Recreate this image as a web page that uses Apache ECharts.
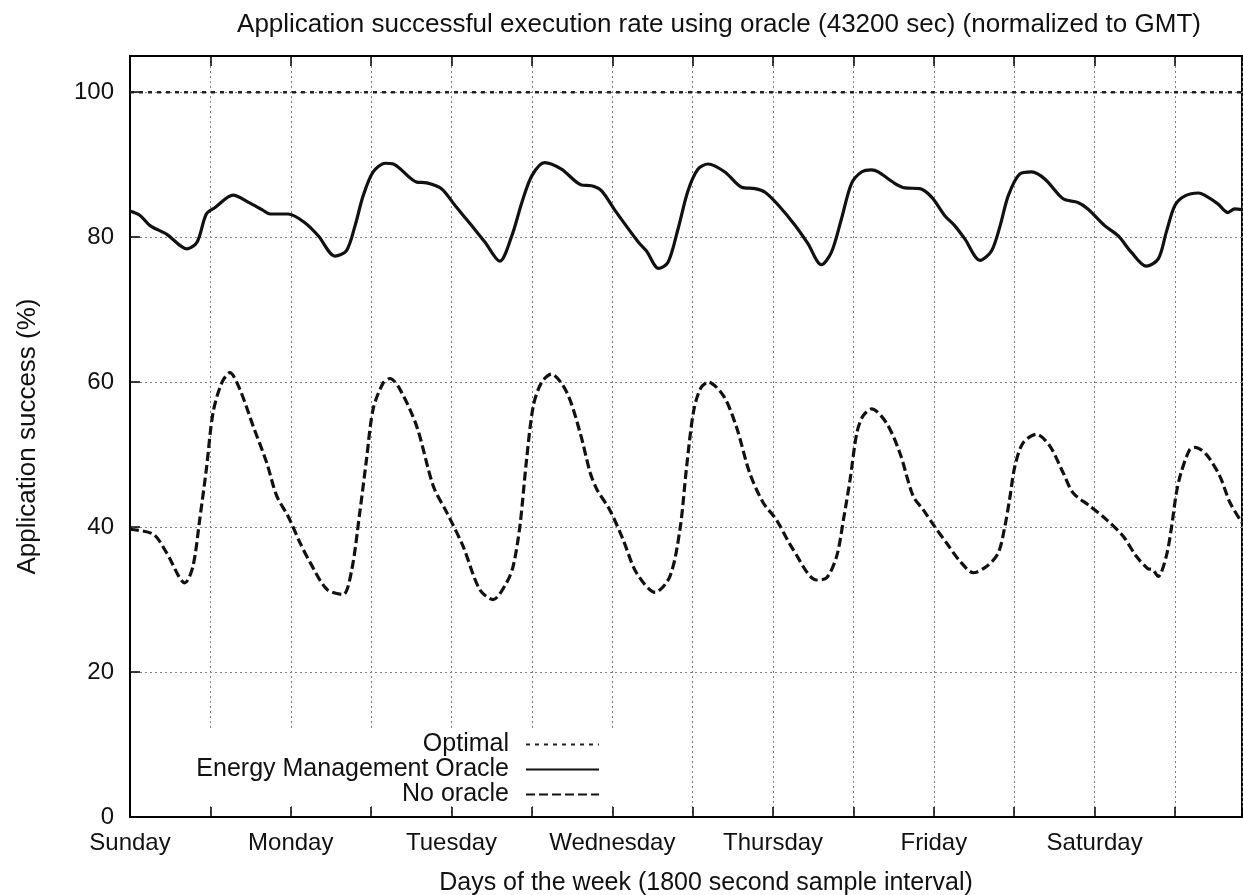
<!DOCTYPE html>
<html><head><meta charset="utf-8">
<script src="https://cdn.jsdelivr.net/npm/echarts@6/dist/echarts.min.js"></script>
<style>html,body{margin:0;padding:0;background:#fff}#c{width:1243px;height:895px}</style>
</head><body><div id="c"></div>
<script>
// x values are hours since Sunday 00:00 GMT (samples every 1800 s)
const dayLabels = ['Sunday','Monday','Tuesday','Wednesday','Thursday','Friday','Saturday'];
const yTicks = [0, 20, 40, 60, 80, 100];

const optimalHours = [0, 166];
const optimalValues = [100, 100];

const emoHours = [0,1.5,3,5.5,8.5,10,11.4,12.7,15.4,17.7,19.7,20.9,23.6,26.1,28.1,30.6,32.3,33.6,34.8,36.3,38.1,39.3,42.8,44.3,46.5,48.5,51,53,55.2,57,58.5,60,61.9,64.4,67.4,68.9,70.4,72.4,75.9,77.1,78.9,80.3,81.8,83.3,84.8,86.3,88.8,91.3,93.3,94.8,96.8,99.3,101.2,103.2,104.7,106.2,107.7,109.2,110.7,111.7,114.2,115.7,117.9,119.7,121.6,123.1,124.6,126.9,128.6,129.9,131.1,132.8,134.6,136.6,139.3,141.5,143,145.5,147.5,149.5,151.7,153.5,154.7,156,157.5,159.5,160.4,162.4,163.9,164.9,166];
const emoValues = [83.6,83.0,81.6,80.4,78.4,79.3,83.2,84.1,85.8,84.8,83.8,83.2,83.2,82.0,80.2,77.4,78.1,81.6,85.7,89.0,90.2,90.1,87.6,87.5,86.7,84.4,81.6,79.3,76.7,80.2,84.8,88.5,90.3,89.4,87.2,87.1,86.4,83.7,79.3,78.1,75.7,76.5,81.1,86.4,89.4,90.1,89.0,86.9,86.7,86.2,84.4,81.6,79.1,76.2,77.9,82.5,87.4,89.0,89.3,89.0,87.4,86.8,86.7,85.5,83.0,81.6,79.8,76.8,78.1,81.6,85.7,88.7,89.0,88.0,85.3,84.8,83.9,81.6,80.2,77.9,76.0,77.0,80.7,84.4,85.7,86.1,85.8,84.6,83.4,83.9,83.8];

const noHours = [0,3.5,5.5,8.2,9.4,10.4,11.4,12.4,13.7,14.9,16.4,18.4,20.4,21.9,23.6,25.4,26.9,29.4,31.8,33.1,34.3,35.3,36.3,37.8,38.8,40.3,42.8,45.3,47.3,49.7,52.2,54.2,56.2,57.2,58.2,59.2,60.2,61.4,62.9,65.2,67.2,68.7,69.7,71.6,73.6,75.6,78.4,80.6,82.1,83.1,84.1,85.1,86.3,88.6,90.5,92.5,94.5,96.5,99,102.5,104,105.5,106.5,107.5,108.5,109.4,110.7,112.9,114.9,116.9,118.4,120.1,121.9,123.9,125.9,127.9,129.6,130.6,131.3,132.1,133.3,135.3,137.3,139.3,140.8,143.3,145.8,148.3,150.2,151.9,152.7,153.5,154.7,155.5,156.2,156.9,158.2,159,160.7,162.7,164.2,166];
const noValues = [39.7,39.0,36.4,32.3,34.6,41.0,48.0,55.8,59.9,61.3,59.0,53.9,48.9,44.3,41.5,37.8,35.1,31.4,30.7,34.1,42.0,49.3,56.3,59.9,60.5,59.0,53.9,45.6,42.0,37.4,31.4,30.0,32.3,34.6,40.1,49.3,56.7,59.9,61.1,58.6,53.0,47.5,45.2,42.4,38.3,33.7,31.0,33.2,39.7,48.4,55.8,59.0,60.0,58.1,53.9,47.5,43.4,41.0,36.9,32.7,33.0,36.0,41.0,46.6,53.0,55.3,56.3,54.4,50.3,44.3,42.4,40.1,37.8,35.3,33.7,34.6,36.4,40.1,43.8,48.4,51.6,52.8,51.2,47.5,44.7,42.9,41.0,38.7,36.0,34.3,34.1,33.2,36.0,40.1,44.7,47.5,50.7,51.0,50.0,47.0,43.4,40.6];

const zip = (xs, ys) => xs.map((x, i) => [x, ys[i]]);
const FONT = '"Liberation Sans", Arial, Helvetica, sans-serif';
const gridLine = { show: true, lineStyle: { color: '#808080', width: 1, type: [2, 3] } };

function legendFor(name, centerY) {
  return {
    data: [name], orient: 'vertical', right: 1243 - 600, top: centerY - 13,
    align: 'right', itemWidth: 73, itemHeight: 26, padding: 0,
    selectedMode: false,
    itemStyle: { opacity: 0 },
    textStyle: { fontFamily: FONT, fontSize: 25, color: '#111', padding: [0, 12, 0, 0] }
  };
}

const chart = echarts.init(document.getElementById('c'), null, { renderer: 'canvas' });
chart.setOption({
  animation: false,
  backgroundColor: '#fff',
  textStyle: { fontFamily: FONT },
  title: {
    text: 'Application successful execution rate using oracle (43200 sec) (normalized to GMT)',
    left: 714, top: 7, textAlign: 'center',
    textStyle: { fontFamily: FONT, fontSize: 26, fontWeight: 'normal', color: '#111' }
  },
  legend: [
    legendFor('Optimal', 745),
    legendFor('Energy Management Oracle', 770),
    legendFor('No oracle', 795)
  ],
  grid: { left: 130, right: 1, top: 56, bottom: 78, outerBoundsMode: 'none', containLabel: false,
          show: true, borderColor: '#000', borderWidth: 2, backgroundColor: 'transparent' },
  xAxis: [{
    type: 'value', min: 0, max: 166, interval: 12, position: 'bottom',
    axisLine: { show: true, lineStyle: { color: '#000', width: 2 } },
    axisTick: { show: true, inside: true, length: 10, lineStyle: { color: '#000', width: 1.5 } },
    axisLabel: {
      fontFamily: FONT, fontSize: 24, color: '#111', margin: 14,
      formatter: v => (v % 24 === 0 && dayLabels[v / 24]) ? dayLabels[v / 24] : ''
    },
    splitLine: gridLine,
    name: 'Days of the week (1800 second sample interval)',
    nameLocation: 'middle', nameGap: 54,
    nameTextStyle: { fontFamily: FONT, fontSize: 25, color: '#111', padding: [0, 0, 0, 40] }
  }, {
    type: 'value', min: 0, max: 166, interval: 12, position: 'top',
    axisLine: { show: true, lineStyle: { color: '#000', width: 2 } },
    axisTick: { show: true, inside: true, length: 10, lineStyle: { color: '#000', width: 1.5 } },
    axisLabel: { show: false }, splitLine: { show: false }
  }],
  yAxis: {
    type: 'value', min: 0, max: 105, interval: 20,
    axisLine: { show: true, lineStyle: { color: '#000', width: 2 } },
    axisTick: { show: true, inside: true, length: 10, lineStyle: { color: '#000', width: 1.5 } },
    axisLabel: {
      fontFamily: FONT, fontSize: 24, color: '#111', margin: 16,
      formatter: v => yTicks.includes(v) ? String(v) : ''
    },
    splitLine: gridLine,
    name: 'Application success (%)', nameLocation: 'middle', nameGap: 89, nameRotate: 90,
    nameTextStyle: { fontFamily: FONT, fontSize: 26, color: '#111' }
  },
  graphic: [{
    type: 'rect', z: 1, silent: true,
    shape: { x: 132, y: 729, width: 498, height: 77 },
    style: { fill: '#fff' }
  }],
  series: [{
    name: 'Optimal', type: 'line', data: zip(optimalHours, optimalValues),
    showSymbol: false, symbol: 'none', z: 3,
    lineStyle: { color: '#222', width: 2.5, type: [4, 5] }, itemStyle: { color: '#222' }
  }, {
    name: 'Energy Management Oracle', type: 'line', data: zip(emoHours, emoValues),
    showSymbol: false, symbol: 'none', smooth: 0.3, z: 3,
    lineStyle: { color: '#111', width: 3.2 }, itemStyle: { color: '#111' }
  }, {
    name: 'No oracle', type: 'line', data: zip(noHours, noValues),
    showSymbol: false, symbol: 'none', smooth: 0.3, z: 3,
    lineStyle: { color: '#111', width: 3.2, type: [9, 4] }, itemStyle: { color: '#111' }
  }]
});
</script>
</body></html>
